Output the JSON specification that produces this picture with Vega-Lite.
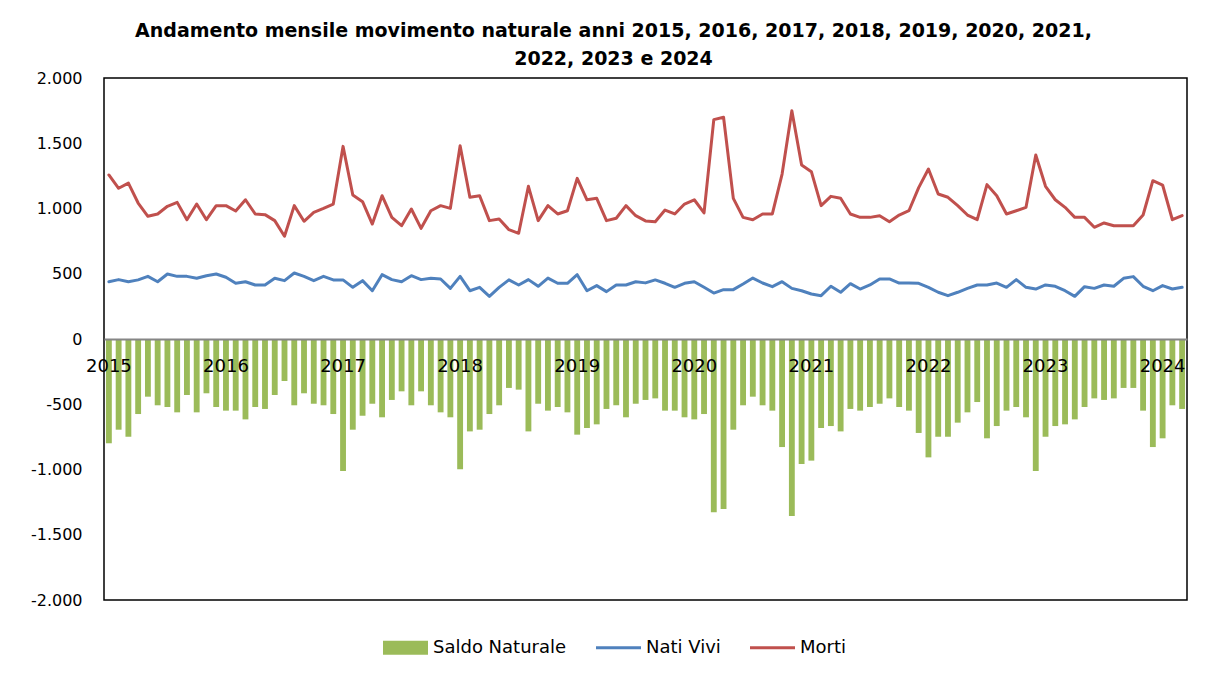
{
  "$schema": "https://vega.github.io/schema/vega-lite/v6.json",
  "width": 1083,
  "height": 522,
  "autosize": {"type": "none"},
  "padding": {"left": 104, "top": 78, "right": 25, "bottom": 75},
  "background": "white",
  "config": {"view": {"stroke": "#000000", "strokeWidth": 1.5}},
  "title": {
    "text": ["Andamento mensile movimento naturale anni 2015,  2016,  2017,  2018,  2019,  2020,  2021,", "2022,  2023  e  2024"],
    "font": "DejaVu Sans", "fontSize": 19, "fontWeight": "bold", "color": "#000000",
    "anchor": "middle", "frame": "group", "dx": -32, "offset": 1, "lineHeight": 28
  },
  "data": {"values": [
    {"mese":"2015-01","saldo":-799,"nati":439,"morti":1257},
    {"mese":"2015-02","saldo":-695,"nati":455,"morti":1155},
    {"mese":"2015-03","saldo":-749,"nati":439,"morti":1195},
    {"mese":"2015-04","saldo":-575,"nati":453,"morti":1042},
    {"mese":"2015-05","saldo":-442,"nati":480,"morti":940},
    {"mese":"2015-06","saldo":-508,"nati":439,"morti":958},
    {"mese":"2015-07","saldo":-521,"nati":498,"morti":1017},
    {"mese":"2015-08","saldo":-562,"nati":480,"morti":1047},
    {"mese":"2015-09","saldo":-429,"nati":480,"morti":914},
    {"mese":"2015-10","saldo":-562,"nati":465,"morti":1034},
    {"mese":"2015-11","saldo":-416,"nati":485,"morti":914},
    {"mese":"2015-12","saldo":-521,"nati":498,"morti":1022},
    {"mese":"2016-01","saldo":-549,"nati":473,"morti":1022},
    {"mese":"2016-02","saldo":-549,"nati":427,"morti":981},
    {"mese":"2016-03","saldo":-616,"nati":439,"morti":1067},
    {"mese":"2016-04","saldo":-521,"nati":414,"morti":958},
    {"mese":"2016-05","saldo":-536,"nati":414,"morti":953},
    {"mese":"2016-06","saldo":-429,"nati":465,"morti":907},
    {"mese":"2016-07","saldo":-322,"nati":447,"morti":787},
    {"mese":"2016-08","saldo":-508,"nati":506,"morti":1022},
    {"mese":"2016-09","saldo":-416,"nati":480,"morti":902},
    {"mese":"2016-10","saldo":-496,"nati":447,"morti":971},
    {"mese":"2016-11","saldo":-508,"nati":480,"morti":1001},
    {"mese":"2016-12","saldo":-575,"nati":453,"morti":1034},
    {"mese":"2017-01","saldo":-1011,"nati":453,"morti":1476},
    {"mese":"2017-02","saldo":-695,"nati":396,"morti":1103},
    {"mese":"2017-03","saldo":-588,"nati":447,"morti":1052},
    {"mese":"2017-04","saldo":-496,"nati":370,"morti":881},
    {"mese":"2017-05","saldo":-600,"nati":493,"morti":1098},
    {"mese":"2017-06","saldo":-467,"nati":455,"morti":932},
    {"mese":"2017-07","saldo":-401,"nati":439,"morti":868},
    {"mese":"2017-08","saldo":-508,"nati":485,"morti":996},
    {"mese":"2017-09","saldo":-401,"nati":455,"morti":848},
    {"mese":"2017-10","saldo":-508,"nati":465,"morti":983},
    {"mese":"2017-11","saldo":-562,"nati":460,"morti":1022},
    {"mese":"2017-12","saldo":-600,"nati":388,"morti":1001},
    {"mese":"2018-01","saldo":-999,"nati":480,"morti":1481},
    {"mese":"2018-02","saldo":-708,"nati":370,"morti":1086},
    {"mese":"2018-03","saldo":-695,"nati":396,"morti":1098},
    {"mese":"2018-04","saldo":-575,"nati":327,"morti":907},
    {"mese":"2018-05","saldo":-508,"nati":396,"morti":920},
    {"mese":"2018-06","saldo":-375,"nati":453,"morti":838},
    {"mese":"2018-07","saldo":-388,"nati":414,"morti":810},
    {"mese":"2018-08","saldo":-708,"nati":455,"morti":1170},
    {"mese":"2018-09","saldo":-496,"nati":404,"morti":907},
    {"mese":"2018-10","saldo":-549,"nati":467,"morti":1022},
    {"mese":"2018-11","saldo":-521,"nati":427,"morti":958},
    {"mese":"2018-12","saldo":-562,"nati":427,"morti":983},
    {"mese":"2019-01","saldo":-733,"nati":493,"morti":1231},
    {"mese":"2019-02","saldo":-682,"nati":370,"morti":1067},
    {"mese":"2019-03","saldo":-654,"nati":409,"morti":1078},
    {"mese":"2019-04","saldo":-536,"nati":363,"morti":907},
    {"mese":"2019-05","saldo":-508,"nati":414,"morti":925},
    {"mese":"2019-06","saldo":-600,"nati":414,"morti":1022},
    {"mese":"2019-07","saldo":-496,"nati":439,"morti":945},
    {"mese":"2019-08","saldo":-467,"nati":430,"morti":905},
    {"mese":"2019-09","saldo":-455,"nati":453,"morti":899},
    {"mese":"2019-10","saldo":-549,"nati":427,"morti":988},
    {"mese":"2019-11","saldo":-549,"nati":396,"morti":958},
    {"mese":"2019-12","saldo":-600,"nati":427,"morti":1034},
    {"mese":"2020-01","saldo":-616,"nati":439,"morti":1067},
    {"mese":"2020-02","saldo":-575,"nati":396,"morti":966},
    {"mese":"2020-03","saldo":-1328,"nati":352,"morti":1681},
    {"mese":"2020-04","saldo":-1303,"nati":378,"morti":1699},
    {"mese":"2020-05","saldo":-695,"nati":378,"morti":1078},
    {"mese":"2020-06","saldo":-508,"nati":421,"morti":932},
    {"mese":"2020-07","saldo":-442,"nati":467,"morti":914},
    {"mese":"2020-08","saldo":-508,"nati":429,"morti":958},
    {"mese":"2020-09","saldo":-549,"nati":401,"morti":958},
    {"mese":"2020-10","saldo":-828,"nati":439,"morti":1264},
    {"mese":"2020-11","saldo":-1356,"nati":388,"morti":1749},
    {"mese":"2020-12","saldo":-958,"nati":370,"morti":1333},
    {"mese":"2021-01","saldo":-932,"nati":345,"morti":1282},
    {"mese":"2021-02","saldo":-682,"nati":332,"morti":1022},
    {"mese":"2021-03","saldo":-667,"nati":404,"morti":1093},
    {"mese":"2021-04","saldo":-708,"nati":358,"morti":1078},
    {"mese":"2021-05","saldo":-536,"nati":424,"morti":958},
    {"mese":"2021-06","saldo":-549,"nati":383,"morti":932},
    {"mese":"2021-07","saldo":-521,"nati":414,"morti":932},
    {"mese":"2021-08","saldo":-496,"nati":460,"morti":945},
    {"mese":"2021-09","saldo":-455,"nati":460,"morti":899},
    {"mese":"2021-10","saldo":-521,"nati":429,"morti":950},
    {"mese":"2021-11","saldo":-549,"nati":429,"morti":983},
    {"mese":"2021-12","saldo":-720,"nati":427,"morti":1160},
    {"mese":"2022-01","saldo":-907,"nati":396,"morti":1303},
    {"mese":"2022-02","saldo":-749,"nati":358,"morti":1111},
    {"mese":"2022-03","saldo":-749,"nati":332,"morti":1086},
    {"mese":"2022-04","saldo":-641,"nati":358,"morti":1022},
    {"mese":"2022-05","saldo":-562,"nati":388,"morti":950},
    {"mese":"2022-06","saldo":-483,"nati":414,"morti":914},
    {"mese":"2022-07","saldo":-761,"nati":414,"morti":1183},
    {"mese":"2022-08","saldo":-667,"nati":429,"morti":1098},
    {"mese":"2022-09","saldo":-549,"nati":396,"morti":958},
    {"mese":"2022-10","saldo":-521,"nati":455,"morti":983},
    {"mese":"2022-11","saldo":-600,"nati":396,"morti":1009},
    {"mese":"2022-12","saldo":-1011,"nati":383,"morti":1410},
    {"mese":"2023-01","saldo":-749,"nati":414,"morti":1170},
    {"mese":"2023-02","saldo":-667,"nati":404,"morti":1067},
    {"mese":"2023-03","saldo":-654,"nati":370,"morti":1009},
    {"mese":"2023-04","saldo":-616,"nati":327,"morti":932},
    {"mese":"2023-05","saldo":-521,"nati":401,"morti":932},
    {"mese":"2023-06","saldo":-455,"nati":388,"morti":856},
    {"mese":"2023-07","saldo":-467,"nati":414,"morti":889},
    {"mese":"2023-08","saldo":-455,"nati":404,"morti":868},
    {"mese":"2023-09","saldo":-375,"nati":465,"morti":868},
    {"mese":"2023-10","saldo":-375,"nati":478,"morti":868},
    {"mese":"2023-11","saldo":-549,"nati":404,"morti":950},
    {"mese":"2023-12","saldo":-828,"nati":370,"morti":1213},
    {"mese":"2024-01","saldo":-761,"nati":409,"morti":1180},
    {"mese":"2024-02","saldo":-508,"nati":383,"morti":914},
    {"mese":"2024-03","saldo":-536,"nati":396,"morti":945}
  ]},
  "transform": [{"fold": ["saldo", "nati", "morti"], "as": ["serie", "valore"]}],
  "encoding": {
    "x": {
      "field": "mese", "type": "ordinal",
      "scale": {"paddingInner": 0.4, "paddingOuter": 0.2},
      "axis": {
        "title": null, "orient": "bottom", "offset": -261,
        "values": ["2015-01","2016-01","2017-01","2018-01","2019-01","2020-01","2021-01","2022-01","2023-01","2024-01"],
        "labelExpr": "slice(datum.value, 0, 4)",
        "labelAngle": 0, "ticks": false, "labelPadding": 18, "labelOverlap": false,
        "labelFont": "DejaVu Sans", "labelFontSize": 18, "labelColor": "#000000",
        "domainColor": "#868686", "domainWidth": 2, "grid": false, "zindex": 1
      }
    },
    "y": {
      "field": "valore", "type": "quantitative",
      "scale": {"domain": [-2000, 2000], "nice": false},
      "axis": {
        "title": null,
        "values": [-2000, -1500, -1000, -500, 0, 500, 1000, 1500, 2000],
        "labelExpr": "(datum.value < 0 ? '-' : '') + replace(format(abs(datum.value), ','), ',', '.')",
        "ticks": false, "domain": false, "grid": false, "labelPadding": 22,
        "labelFont": "DejaVu Sans", "labelFontSize": 16, "labelColor": "#000000"
      }
    },
    "color": {
      "field": "serie", "type": "nominal",
      "scale": {"domain": ["saldo", "nati", "morti"], "range": ["#9BBB59", "#4F81BD", "#C0504D"]},
      "legend": {
        "title": null, "orient": "none", "legendX": 279, "legendY": 547, "direction": "horizontal",
        "labelExpr": "datum.value == 'saldo' ? 'Saldo Naturale' : datum.value == 'nati' ? 'Nati Vivi' : 'Morti'",
        "labelFont": "DejaVu Sans", "labelFontSize": 18, "labelColor": "#000000",
        "symbolSize": 2025, "labelOffset": 5, "columnPadding": 29, "symbolStrokeWidth": 0,
        "encode": {
          "symbols": {
            "update": {
              "shape": {"signal": "datum.value == 'saldo' ? 'M-1,-0.31H1V0.31H-1Z' : 'M-1,-0.07H1V0.07H-1Z'"},
              "fill": {"scale": "color", "field": "value"},
              "stroke": {"value": "transparent"}
            }
          }
        }
      }
    }
  },
  "layer": [
    {"transform": [{"filter": "datum.serie == 'saldo'"}], "mark": {"type": "bar"}},
    {"transform": [{"filter": "datum.serie != 'saldo'"}], "mark": {"type": "line", "strokeWidth": 3, "strokeJoin": "round", "strokeCap": "round"}}
  ]
}
